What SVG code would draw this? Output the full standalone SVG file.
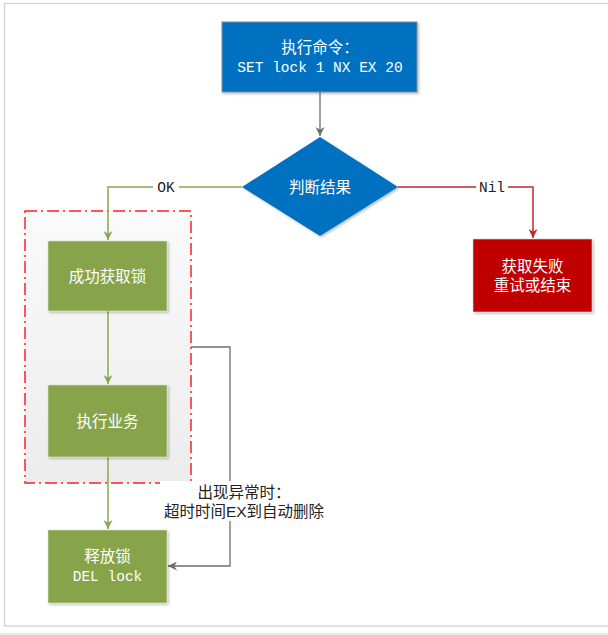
<svg xmlns="http://www.w3.org/2000/svg" width="608" height="635" viewBox="0 0 608 635">
<defs>
<linearGradient id="grp" x1="0" y1="0" x2="0" y2="1">
<stop offset="0" stop-color="#fafafa"/>
<stop offset="1" stop-color="#ececec"/>
</linearGradient>
<filter id="sh" x="-10%" y="-10%" width="130%" height="130%">
<feDropShadow dx="1.5" dy="1.5" stdDeviation="1" flood-color="#000" flood-opacity="0.25"/>
</filter>
<marker id="ag" viewBox="0 0 10 10" refX="10" refY="5" markerWidth="9" markerHeight="9" orient="auto" markerUnits="userSpaceOnUse">
<path d="M0,0 L10,5 L0,10 L3,5 Z" fill="#8aa652"/>
</marker>
<marker id="ar" viewBox="0 0 10 10" refX="10" refY="5" markerWidth="9" markerHeight="9" orient="auto" markerUnits="userSpaceOnUse">
<path d="M0,0 L10,5 L0,10 L3,5 Z" fill="#c0282d"/>
</marker>
<marker id="ak" viewBox="0 0 10 10" refX="10" refY="5" markerWidth="9" markerHeight="9" orient="auto" markerUnits="userSpaceOnUse">
<path d="M0,0 L10,5 L0,10 L3,5 Z" fill="#6d6d6d"/>
</marker>
</defs>
<style>
.cn{font-family:"Liberation Sans","Noto Sans CJK SC",sans-serif;font-size:15.5px;}
.mo{font-family:"Liberation Mono","Noto Sans CJK SC",monospace;font-size:14.5px;}
.w{fill:#ffffff;}
.k{fill:#222222;}
.g{stroke:#8aa652;stroke-width:1.5;fill:none;}
.r{stroke:#c0282d;stroke-width:1.5;fill:none;}
.gy{stroke:#6d6d6d;stroke-width:1.3;fill:none;}
</style>
<rect x="0" y="0" width="608" height="635" fill="#ffffff"/>
<rect x="4.5" y="3.5" width="610" height="622.5" fill="none" stroke="#cfcfcf" stroke-width="1.2"/>
<line x1="0" y1="634" x2="608" y2="634" stroke="#d4d4d4" stroke-width="1.2"/>

<g id="group-box">
<rect x="25" y="211" width="166" height="272" fill="url(#grp)" stroke="#ff1f1f" stroke-width="1.5" stroke-dasharray="12,4,2,4"/>
</g>

<g id="connectors">
<path class="gy" d="M320,92 V136" marker-end="url(#ak)"/>
<path class="g" d="M242,187 H108 V240" marker-end="url(#ag)"/>
<path class="r" d="M398,187 H533 V238" marker-end="url(#ar)"/>
<path class="g" d="M108,311 V384" marker-end="url(#ag)"/>
<path class="g" d="M108,457 V529" marker-end="url(#ag)"/>
<path class="gy" d="M191,347 H230 V566 H168" marker-end="url(#ak)"/>
<rect x="153" y="178" width="26" height="17" fill="#ffffff"/>
<text class="mo k" x="166" y="192" text-anchor="middle">OK</text>
<rect x="476" y="178" width="32" height="17" fill="#ffffff"/>
<text class="mo k" x="492" y="192" text-anchor="middle">Nil</text>
<rect x="160" y="481" width="168" height="40" fill="#ffffff"/>
<text class="cn k" text-anchor="middle"><tspan x="244" y="497.5">出现异常时：</tspan><tspan x="244" y="516.5">超时时间EX到自动删除</tspan></text>
</g>

<g id="node-cmd">
<rect x="222" y="22" width="195" height="70" fill="#0070c0" stroke="#7f8c99" stroke-width="1" filter="url(#sh)"/>
<text class="cn w" x="320" y="53" text-anchor="middle">执行命令：</text>
<text class="mo w" x="320" y="72" text-anchor="middle">SET lock 1 NX EX 20</text>
</g>

<g id="node-judge">
<path d="M320,137 L398,187 L320,236 L242,187 Z" fill="#0070c0" filter="url(#sh)"/>
<text class="cn w" x="320" y="192.5" text-anchor="middle">判断结果</text>
</g>

<g id="node-fail">
<rect x="473" y="239" width="119" height="73" fill="#c00000" stroke="#d9d9d9" stroke-width="0.6" filter="url(#sh)"/>
<text class="cn w" x="532.5" y="272" text-anchor="middle">获取失败</text>
<text class="cn w" x="532.5" y="291" text-anchor="middle">重试或结束</text>
</g>

<g id="node-lock">
<rect x="48" y="241" width="119" height="70" fill="#88a44c" stroke="#d9e3c6" stroke-width="0.6" filter="url(#sh)"/>
<text class="cn w" x="107.5" y="282" text-anchor="middle">成功获取锁</text>
</g>

<g id="node-biz">
<rect x="48" y="385" width="119" height="72" fill="#88a44c" stroke="#d9e3c6" stroke-width="0.6" filter="url(#sh)"/>
<text class="cn w" x="107.5" y="427" text-anchor="middle">执行业务</text>
</g>

<g id="node-release">
<rect x="48" y="530" width="119" height="73" fill="#88a44c" stroke="#d9e3c6" stroke-width="0.6" filter="url(#sh)"/>
<text class="cn w" x="107.5" y="562" text-anchor="middle">释放锁</text>
<text class="mo w" x="107.5" y="581" text-anchor="middle">DEL lock</text>
</g>
</svg>
